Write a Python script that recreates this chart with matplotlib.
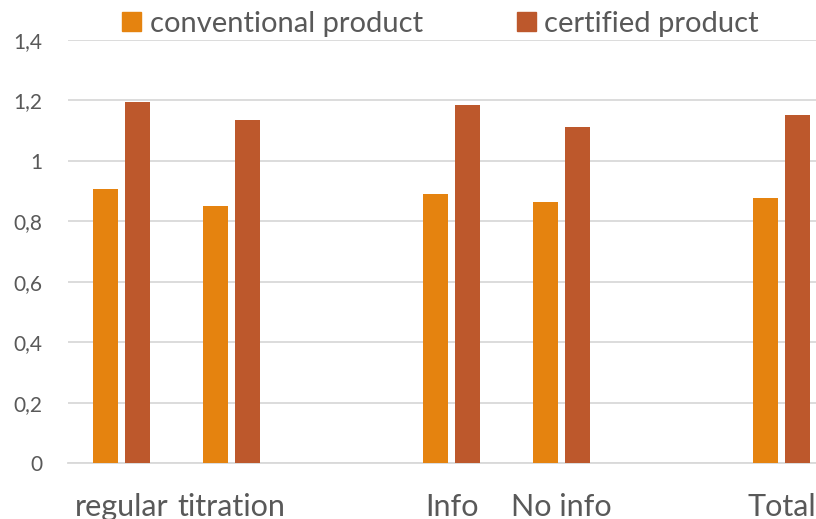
import matplotlib
matplotlib.use("Agg")
import matplotlib.pyplot as plt
from matplotlib.patches import Patch
import numpy as np

plt.rcParams['font.family'] = ['Lato', 'DejaVu Sans']

# groups, with blank slots between them
categories = ["regular", "titration", "", "Info", "No info", "", "Total"]
conventional = [0.907, 0.850, None, 0.892, 0.864, None, 0.878]
certified = [1.196, 1.135, None, 1.186, 1.112, None, 1.153]

orange = "#E5830F"
brown = "#BD582C"
grid = "#D9D9D9"
text_col = "#595959"

fig = plt.figure(figsize=(8.16, 5.19), dpi=100)
ax = fig.add_axes([0.083, 0.107, 0.917, 0.816])

x = np.arange(len(categories))
w = 0.227
off = 0.145
for i in x:
    if conventional[i] is not None:
        ax.bar(i - off, conventional[i], w, color=orange, zorder=3)
        ax.bar(i + off, certified[i], w, color=brown, zorder=3)

ax.set_xlim(-0.49, 6.31)
ax.set_ylim(0, 1.4)
yt = np.arange(0, 1.41, 0.2)
ax.set_yticks(yt)
ax.set_yticklabels([("%g" % round(v, 1)).replace(".", ",") for v in yt])
ax.set_xticks(x)
ax.set_xticklabels(categories)

ax.grid(axis="y", color=grid, linewidth=1.3, zorder=0)
for s in ["top", "right", "left"]:
    ax.spines[s].set_visible(False)
ax.spines["bottom"].set_color(grid)
ax.spines["bottom"].set_linewidth(1.3)
ax.tick_params(axis="y", length=0, pad=18, labelsize=15, labelcolor=text_col)
ax.tick_params(axis="x", length=0, pad=21, labelsize=22, labelcolor=text_col)

handles = [Patch(color=orange, label="conventional product"),
           Patch(color=brown, label="certified product")]
fig.legend(handles=handles, loc="upper center", bbox_to_anchor=(0.54, 1.03),
           ncol=2, frameon=False, fontsize=21, labelcolor=text_col,
           handlelength=0.65, handleheight=0.65, handletextpad=0.3,
           columnspacing=3.2)

fig.savefig("out.png", dpi=100)
